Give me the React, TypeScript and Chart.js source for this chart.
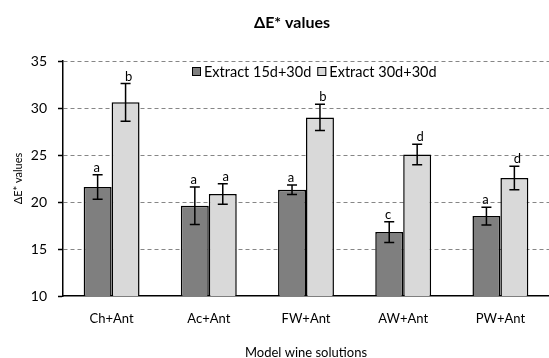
import React, { useEffect, useRef } from "react";
import { Chart, registerables } from "chart.js";

Chart.register(...registerables);

const categories = ["Ch+Ant", "Ac+Ant", "FW+Ant", "AW+Ant", "PW+Ant"];
const seriesNames = ["Extract 15d+30d", "Extract 30d+30d"];
const values15 = [21.6, 19.6, 21.3, 16.8, 18.5];
const errors15 = [1.3, 2.0, 0.5, 1.1, 0.95];
const letters15 = ["a", "a", "a", "c", "a"];
const values30 = [30.6, 20.85, 29.0, 25.05, 22.55];
const errors30 = [2.0, 1.1, 1.4, 1.1, 1.25];
const letters30 = ["b", "a", "b", "d", "d"];
const yTicks = [10, 15, 20, 25, 30, 35];

const chartTitle = "ΔE* values";
const xTitle = "Model wine solutions";
const yTitle = "ΔE* values";

const FONT = "Lato, 'Open Sans', sans-serif";
const DARK = "#7f7f7f";
const LIGHT = "#d9d9d9";

const errorsAll = [errors15, errors30];
const lettersAll = [letters15, letters30];

const errorBarPlugin = {
  id: "errorBars",
  afterDatasetsDraw(chart: any) {
    const ctx = chart.ctx;
    const yScale = chart.scales.y;
    ctx.save();
    chart.data.datasets.forEach((ds: any, di: number) => {
      const meta = chart.getDatasetMeta(di);
      meta.data.forEach((el: any, i: number) => {
        const v = ds.data[i];
        const e = errorsAll[di][i];
        const x = el.x;
        const yT = yScale.getPixelForValue(v + e);
        const yB = yScale.getPixelForValue(v - e);
        ctx.strokeStyle = "#000";
        ctx.lineWidth = 1.5;
        ctx.beginPath();
        ctx.moveTo(x, yT);
        ctx.lineTo(x, yB);
        ctx.moveTo(x - 5, yT);
        ctx.lineTo(x + 5, yT);
        ctx.moveTo(x - 5, yB);
        ctx.lineTo(x + 5, yB);
        ctx.stroke();
        ctx.fillStyle = "#000";
        ctx.font = `13px ${FONT}`;
        ctx.textAlign = "center";
        ctx.textBaseline = "alphabetic";
        const dx = di === 1 ? 3 : -1;
        ctx.fillText(lettersAll[di][i], x + dx, yT - 3);
      });
    });
    ctx.restore();
  },
};

const titleLegendPlugin = {
  id: "titleLegend",
  afterDraw(chart: any) {
    const ctx = chart.ctx;
    ctx.save();
    ctx.fillStyle = "#000";
    ctx.font = `bold 16px ${FONT}`;
    ctx.textAlign = "center";
    ctx.textBaseline = "middle";
    ctx.fillText(chartTitle, 292, 23);

    ctx.font = `14.5px ${FONT}`;
    ctx.textAlign = "left";
    let x = 192;
    const yc = 72;
    const colors = [DARK, LIGHT];
    seriesNames.forEach((name, i) => {
      ctx.fillStyle = colors[i];
      ctx.fillRect(x, yc - 5, 9, 9);
      ctx.strokeStyle = "#000";
      ctx.lineWidth = 1;
      ctx.strokeRect(x + 0.5, yc - 4.5, 8, 8);
      ctx.fillStyle = "#000";
      ctx.fillText(name, x + 12, yc);
      x += 12 + ctx.measureText(name).width + 6;
    });
    ctx.restore();
  },
};

export default function App() {
  const ref = useRef<HTMLCanvasElement | null>(null);
  useEffect(() => {
    if (!ref.current) return;
    const chart = new Chart(ref.current, {
      type: "bar",
      data: {
        labels: categories,
        datasets: [
          {
            label: seriesNames[0],
            data: values15,
            backgroundColor: DARK,
            borderColor: "#000",
            borderWidth: 1.5,
          },
          {
            label: seriesNames[1],
            data: values30,
            backgroundColor: LIGHT,
            borderColor: "#000",
            borderWidth: 1.5,
          },
        ],
      },
      options: {
        responsive: false,
        animation: false,
        devicePixelRatio: 1,
        layout: { padding: { top: 61, right: 0, bottom: 0, left: 0 } },
        datasets: { bar: { categoryPercentage: 0.575, barPercentage: 1 } },
        plugins: {
          legend: { display: false },
          title: { display: false },
          tooltip: { enabled: false },
        },
        scales: {
          x: {
            grid: { display: false },
            border: { display: true, color: "#000", width: 1.5 },
            ticks: { color: "#000", font: { family: FONT, size: 13 }, padding: 7 },
            title: {
              display: true,
              text: xTitle,
              color: "#000",
              font: { family: FONT, size: 13 },
              padding: { top: 0, bottom: -3 },
            },
            afterFit(scale: any) {
              scale.height = 62;
            },
          },
          y: {
            min: 10,
            max: 35,
            afterBuildTicks(scale: any) {
              scale.ticks = yTicks.map((v) => ({ value: v }));
            },
            grid: {
              color: (c: any) => (c.tick && c.tick.value === 10 ? "rgba(0,0,0,0)" : "#868686"),
              lineWidth: 1,
              tickLength: 5,
              tickColor: "#000",
              tickWidth: 1.5,
            },
            border: { display: true, color: "#000", width: 1.5, dash: [4, 3] },
            ticks: { color: "#000", font: { family: FONT, size: 14 }, padding: 11 },
            title: {
              display: true,
              text: yTitle,
              color: "#000",
              font: { family: FONT, size: 11 },
              padding: { top: 12, bottom: 0 },
            },
            afterFit(scale: any) {
              scale.width = 63;
            },
          },
        },
      },
      plugins: [errorBarPlugin, titleLegendPlugin],
    } as any);
    return () => chart.destroy();
  }, []);
  return (
    <div style={{ position: "fixed", left: 0, top: 0, width: 549, height: 358, background: "#fff" }}>
      <canvas ref={ref} width={549} height={358} />
    </div>
  );
}
